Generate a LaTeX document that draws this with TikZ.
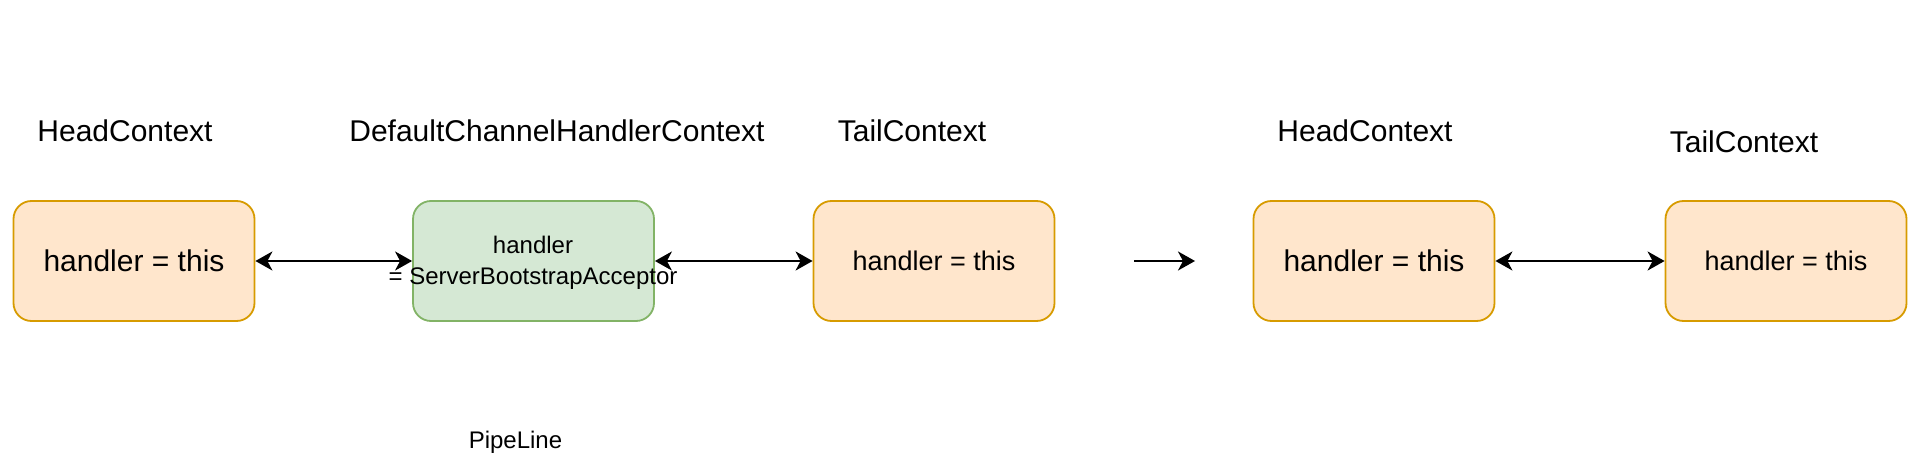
\documentclass[tikz,border=0pt]{standalone}
\usepackage{fontspec}
\setmainfont{Liberation Sans}
\usetikzlibrary{arrows.meta}
\definecolor{orfill}{HTML}{FFE6CC}
\definecolor{ordraw}{HTML}{D79B00}
\definecolor{grfill}{HTML}{D5E8D4}
\definecolor{grdraw}{HTML}{82B366}
\tikzset{
  ctxbox/.style={draw=ordraw, fill=orfill, line width=1.8pt, rounded corners=18pt,
    minimum width=241pt, minimum height=120pt, inner sep=0pt},
  grbox/.style={draw=grdraw, fill=grfill, line width=1.8pt, rounded corners=18pt,
    minimum width=241pt, minimum height=120pt, inner sep=0pt},
  title/.style={font=\fontsize{30}{36}\selectfont, inner sep=0pt},
  tip/.style={},
  link/.style={line width=2.2pt, {Stealth[length=17pt,width=19pt,inset=5pt]}-{Stealth[length=17pt,width=19pt,inset=5pt]}},
  onearrow/.style={line width=2.2pt, -{Stealth[length=17pt,width=19pt,inset=5pt]}}
}
\begin{document}
\begin{tikzpicture}[x=1pt,y=-1pt]
\useasboundingbox (0,0) rectangle (1924,462);
% boxes
\node[ctxbox, font=\fontsize{30}{36}\selectfont] (h1) at (134,261) {handler = this};
\node[grbox] (d1) at (533.5,261) {};
\node[font=\fontsize{24}{31}\selectfont, align=center, inner sep=0pt] (d1t) at (533,262.5) {handler\\= ServerBootstrapAcceptor};
\node[ctxbox, font=\fontsize{27}{32}\selectfont] (t1) at (934,261) {handler = this};
\node[ctxbox, font=\fontsize{30}{36}\selectfont] (h2) at (1374,261) {handler = this};
\node[ctxbox, font=\fontsize{27}{32}\selectfont] (t2) at (1786,261) {handler = this};
% titles
\node[title] (lh1) at (125,131) {HeadContext};
\node[title] (ld1) at (557,131) {DefaultChannelHandlerContext};
\node[title] (lt1) at (912,131) {TailContext};
\node[title] (lh2) at (1365,131) {HeadContext};
\node[title] (lt2) at (1744,142) {TailContext};
\node[font=\fontsize{24}{29}\selectfont, inner sep=0pt] (pl) at (515.5,442) {PipeLine};
% connectors
\draw[link] (h1.east) -- (d1.west);
\draw[link] (d1.east) -- (t1.west);
\draw[link] (h2.east) -- (t2.west);
\coordinate (a1) at (1134,261);
\coordinate (a2) at (1195,261);
\draw[onearrow] (a1) -- (a2);
\end{tikzpicture}
\end{document}
